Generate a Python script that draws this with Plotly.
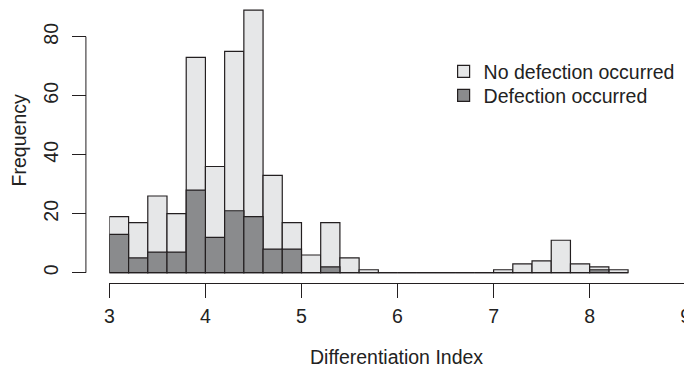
import plotly.graph_objects as go

# Histogram bins (left edges, width 0.2) and counts
bin_left = [3.0, 3.2, 3.4, 3.6, 3.8, 4.0, 4.2, 4.4, 4.6, 4.8,
            5.0, 5.2, 5.4, 5.6, 5.8, 6.0, 6.2, 6.4, 6.6, 6.8,
            7.0, 7.2, 7.4, 7.6, 7.8, 8.0, 8.2]
bin_width = 0.2
count_all = [19, 17, 26, 20, 73, 36, 75, 89, 33, 17,
             6, 17, 5, 1, 0, 0, 0, 0, 0, 0,
             1, 3, 4, 11, 3, 2, 1]
count_defect = [13, 5, 7, 7, 28, 12, 21, 19, 8, 8,
                0, 2, 0, 0, 0, 0, 0, 0, 0, 0,
                0, 0, 0, 0, 0, 1, 0]
x_ticks = [3, 4, 5, 6, 7, 8, 9]
y_ticks = [0, 20, 40, 60, 80]

# the page body has an 8px margin, so the figure is 8px smaller
OFF = 8
W, H = 692 - OFF, 369 - OFF
FONT = dict(family="Liberation Sans, Arial, sans-serif", size=19.5, color="#222222")
EDGE = "#231f20"

fig = go.Figure()
fig.add_trace(go.Bar(
    x=bin_left, y=count_all, width=bin_width, offset=0,
    name="No defection occurred", legend="legend",
    marker=dict(color="#e6e7e8", line=dict(color=EDGE, width=1.2)),
))
fig.add_trace(go.Bar(
    x=bin_left, y=count_defect, width=bin_width, offset=0,
    name="Defection occurred", legend="legend2",
    marker=dict(color="#8a8b8d", line=dict(color=EDGE, width=1.2)),
))

# pixel geometry in page coordinates (R base graphics look)
x3_px, x9_px = 105.8 - OFF, 690.7 - OFF
y0_px, px_per_unit = 272.7 - OFF, 2.95
xaxis_y_px = 283 - OFF
yaxis_x_px = 82 - OFF

leg_common = dict(xanchor="left", yanchor="middle", bgcolor="rgba(0,0,0,0)",
                  font=FONT)

fig.update_layout(
    width=W, height=H,
    margin=dict(l=0, r=0, t=0, b=0),
    paper_bgcolor="white", plot_bgcolor="white",
    barmode="overlay",
    font=FONT,
    showlegend=True,
    legend=dict(x=(445 - OFF) / W, y=1 - (71.7 - OFF) / H, **leg_common),
    legend2=dict(x=(445 - OFF) / W, y=1 - (95.7 - OFF) / H, **leg_common),
    xaxis=dict(
        domain=[x3_px / W, x9_px / W], range=[min(x_ticks), max(x_ticks)],
        anchor="free", position=1 - xaxis_y_px / H,
        tickmode="array", tickvals=x_ticks, ticktext=[str(v) for v in x_ticks],
        ticks="outside", ticklen=14, tickwidth=1, tickcolor=EDGE,
        showline=True, linecolor=EDGE, linewidth=1,
        showgrid=False, zeroline=False, tickfont=FONT, ticklabelstandoff=2,
        ticklabeloverflow="allow",
    ),
    yaxis=dict(
        domain=[0, 1],
        range=[-(H - y0_px) / px_per_unit, y0_px / px_per_unit],
        anchor="free", position=yaxis_x_px / W,
        tickmode="array", tickvals=y_ticks, ticktext=[str(v) for v in y_ticks],
        ticks="outside", ticklen=14, tickwidth=1, tickcolor=EDGE,
        tickangle=-90, showline=False,
        showgrid=False, zeroline=False, tickfont=FONT, ticklabelstandoff=6,
        ticklabeloverflow="allow",
    ),
    shapes=[dict(type="line", xref="paper", yref="y",
                 x0=yaxis_x_px / W, x1=yaxis_x_px / W,
                 y0=min(y_ticks), y1=max(y_ticks),
                 line=dict(color=EDGE, width=1))],
    annotations=[
        dict(text="Differentiation Index", xref="paper", yref="paper",
             x=(397 - OFF) / W, y=1 - (357 - OFF) / H,
             xanchor="center", yanchor="middle",
             showarrow=False, font=FONT),
        dict(text="Frequency", xref="paper", yref="paper",
             x=(14.5 - OFF) / W, y=1 - (140 - OFF) / H,
             xanchor="center", yanchor="middle",
             textangle=-90, showarrow=False, font=FONT),
    ],
)

fig.write_html("out.html")
